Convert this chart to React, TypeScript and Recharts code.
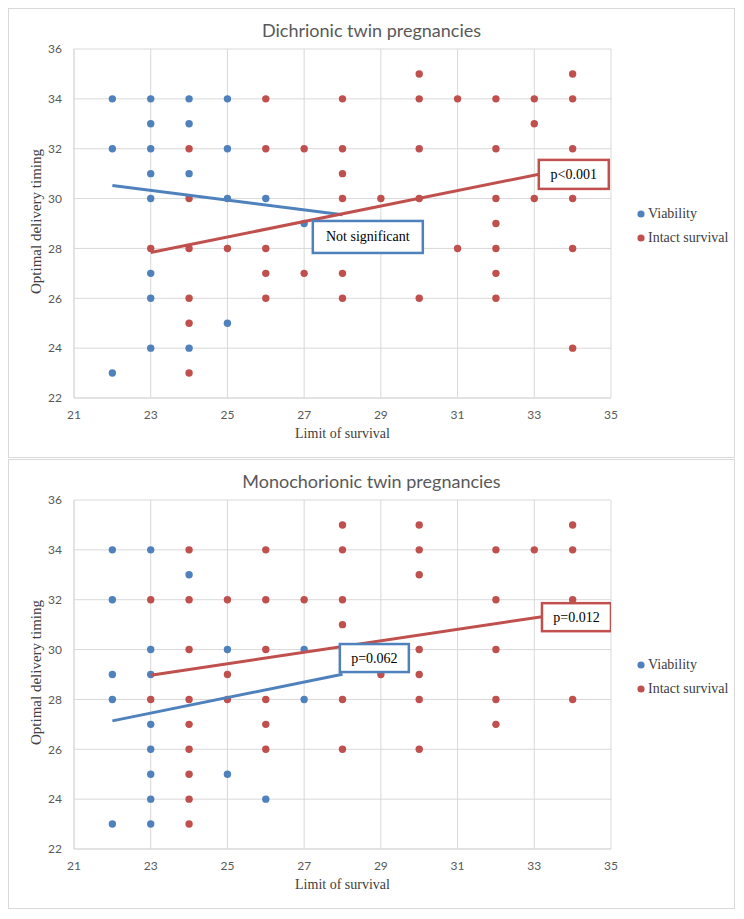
import { ScatterChart, Scatter, XAxis, YAxis, CartesianGrid, Legend } from 'recharts'

const BLUE = '#4F81BD'
const RED = '#C0504D'
const GRID = '#d9d9d9'
const TEXT = '#595959'

const xTicks = [21, 23, 25, 27, 29, 31, 33, 35]
const yTicks = [22, 24, 26, 28, 30, 32, 34, 36]
const seriesNames = ['Viability', 'Intact survival']

// limit of survival -> optimal delivery timings, column by column
const dcViabilityCols: [number, number[]][] = [
  [22, [34, 32, 23]],
  [23, [34, 33, 32, 31, 30, 27, 26, 24]],
  [24, [34, 33, 31, 24]],
  [25, [34, 32, 30, 25]],
  [26, [30]],
  [27, [29]],
]
const dcSurvivalCols: [number, number[]][] = [
  [23, [28]],
  [24, [32, 30, 28, 26, 25, 23]],
  [25, [28]],
  [26, [34, 32, 28, 27, 26]],
  [27, [32, 27]],
  [28, [34, 32, 31, 30, 27, 26]],
  [29, [30]],
  [30, [35, 34, 32, 30, 26]],
  [31, [34, 28]],
  [32, [34, 32, 30, 29, 28, 27, 26]],
  [33, [34, 33, 30]],
  [34, [35, 34, 32, 30, 28, 24]],
]
const mcViabilityCols: [number, number[]][] = [
  [22, [34, 32, 29, 28, 23]],
  [23, [34, 30, 29, 27, 26, 25, 24, 23]],
  [24, [33]],
  [25, [30, 25]],
  [26, [24]],
  [27, [30, 28]],
]
const mcSurvivalCols: [number, number[]][] = [
  [23, [32, 28]],
  [24, [34, 32, 30, 28, 27, 26, 25, 24, 23]],
  [25, [32, 29, 28]],
  [26, [34, 32, 30, 28, 27, 26]],
  [27, [32]],
  [28, [35, 34, 32, 31, 28, 26]],
  [29, [29]],
  [30, [35, 34, 33, 30, 29, 28, 26]],
  [32, [34, 32, 30, 28, 27]],
  [33, [34]],
  [34, [35, 34, 32, 28]],
]

// trendline end points
const dcViabilityTrend = [{ x: 22, y: 30.52 }, { x: 28, y: 29.35 }]
const dcSurvivalTrend = [{ x: 23, y: 27.84 }, { x: 34, y: 31.25 }]
const mcViabilityTrend = [{ x: 22, y: 27.14 }, { x: 28, y: 29.01 }]
const mcSurvivalTrend = [{ x: 23, y: 28.97 }, { x: 34, y: 31.5 }]

const dcNotes = [
  { x: 28.66, y: 28.46, text: 'Not significant', color: BLUE, w: 110, h: 32 },
  { x: 34.03, y: 30.97, text: 'p<0.001', color: RED, w: 70, h: 29 },
]
const mcNotes = [
  { x: 34.1, y: 31.3, text: 'p=0.012', color: RED, w: 69, h: 28 },
  { x: 28.83, y: 29.66, text: 'p=0.062', color: BLUE, w: 69, h: 28 },
]

const toPoints = (cols: [number, number[]][]) =>
  cols.flatMap(([x, ys]) => ys.map((y) => ({ x, y })))

const dot = (color: string) => (p: any) => <circle cx={p.cx} cy={p.cy} r={3.7} fill={color} />
const noDot = () => <g />

const noteShape = (p: any) => {
  const n = p.payload
  return (
    <g>
      <rect x={p.cx - n.w / 2} y={p.cy - n.h / 2} width={n.w} height={n.h} fill="#fff" stroke={n.color} strokeWidth={2.5} />
      <text x={p.cx} y={p.cy} textAnchor="middle" dominantBaseline="central" fontFamily="Liberation Serif" fontSize={14} fill="#000">
        {n.text}
      </text>
    </g>
  )
}

const yLabel = (props: any) => {
  const vb = props.viewBox
  const cx = vb.x + 27
  const cy = vb.y + vb.height / 2 - 2
  return (
    <text x={cx} y={cy} transform={`rotate(-90, ${cx}, ${cy})`} textAnchor="middle" dominantBaseline="central" fontFamily="Liberation Serif" fontSize={15} fill="#404040">
      Optimal delivery timing
    </text>
  )
}

const legendContent = () => (
  <div style={{ fontFamily: 'Liberation Serif', fontSize: 14, color: '#404040' }}>
    {seriesNames.map((name, i) => (
      <div key={name} style={{ display: 'flex', alignItems: 'center', height: 24 }}>
        <svg width={8} height={8}>
          <circle cx={4} cy={4} r={3.6} fill={i === 0 ? BLUE : RED} />
        </svg>
        <span style={{ marginLeft: 3, whiteSpace: 'nowrap' }}>{name}</span>
      </div>
    ))}
  </div>
)

interface PanelProps {
  title: string
  viability: [number, number[]][]
  survival: [number, number[]][]
  viabilityTrend: { x: number; y: number }[]
  survivalTrend: { x: number; y: number }[]
  notes: typeof dcNotes
  style?: React.CSSProperties
}

function Panel({ title, viability, survival, viabilityTrend, survivalTrend, notes, style }: PanelProps) {
  const tick = { fill: TEXT, fontSize: 12, fontFamily: 'Lato' }
  return (
    <div style={{ position: 'relative', width: 727, height: 450, border: `1px solid ${GRID}`, boxSizing: 'border-box', background: '#fff', ...style }}>
      <div style={{ position: 'absolute', top: 11, left: 0, width: '100%', textAlign: 'center', fontFamily: 'Lato', fontSize: 18, lineHeight: '20px', color: TEXT }}>
        {title}
      </div>
      <div style={{ position: 'absolute', top: 0, left: 0 }}>
        <ScatterChart width={725} height={448} margin={{ top: 40, right: 123, bottom: 14, left: 0 }}>
          <CartesianGrid stroke={GRID} />
          <XAxis
            type="number"
            dataKey="x"
            domain={[21, 35]}
            ticks={xTicks}
            interval={0}
            tickLine={false}
            axisLine={{ stroke: GRID }}
            tick={tick}
            tickSize={6}
            tickMargin={6}
            height={45}
            allowDataOverflow
            label={{ value: 'Limit of survival', position: 'insideBottom', offset: 5, fill: '#404040', fontSize: 14, fontFamily: 'Liberation Serif' }}
          />
          <YAxis
            type="number"
            dataKey="y"
            domain={[22, 36]}
            ticks={yTicks}
            interval={0}
            tickLine={false}
            axisLine={{ stroke: GRID }}
            tick={tick}
            tickSize={6}
            tickMargin={6}
            width={65}
            allowDataOverflow
            label={{ value: 'Optimal delivery timing', content: yLabel }}
          />
          <Legend layout="vertical" align="center" verticalAlign="middle" wrapperStyle={{ left: 628, top: 193, width: 100 }} content={legendContent} />
          <Scatter name={seriesNames[0]} data={toPoints(viability)} shape={dot(BLUE)} isAnimationActive={false} />
          <Scatter name={seriesNames[1]} data={toPoints(survival)} shape={dot(RED)} isAnimationActive={false} />
          <Scatter data={viabilityTrend} shape={noDot} line={{ stroke: BLUE, strokeWidth: 3 }} legendType="none" isAnimationActive={false} />
          <Scatter data={survivalTrend} shape={noDot} line={{ stroke: RED, strokeWidth: 3 }} legendType="none" isAnimationActive={false} />
          <Scatter data={notes} shape={noteShape} legendType="none" isAnimationActive={false} />
        </ScatterChart>
      </div>
    </div>
  )
}

export default function App() {
  return (
    <div style={{ width: 727 }}>
      <Panel
        title="Dichrionic twin pregnancies"
        viability={dcViabilityCols}
        survival={dcSurvivalCols}
        viabilityTrend={dcViabilityTrend}
        survivalTrend={dcSurvivalTrend}
        notes={dcNotes}
      />
      <Panel
        title="Monochorionic twin pregnancies"
        viability={mcViabilityCols}
        survival={mcSurvivalCols}
        viabilityTrend={mcViabilityTrend}
        survivalTrend={mcSurvivalTrend}
        notes={mcNotes}
        style={{ marginTop: 1 }}
      />
    </div>
  )
}
